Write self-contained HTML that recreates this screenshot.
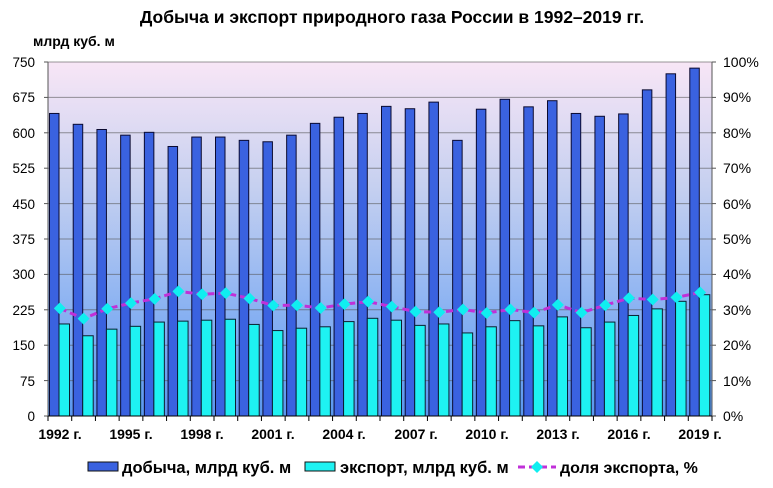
<!DOCTYPE html>
<html><head><meta charset="utf-8"><style>
body{margin:0;background:#fff}
svg{display:block;font-family:"Liberation Sans",sans-serif}
</style></head><body>
<svg id="c" width="773" height="488" xmlns="http://www.w3.org/2000/svg">
<defs>
<linearGradient id="bg" x1="0" y1="0" x2="0" y2="1">
<stop offset="0" stop-color="#f8e6f6"/>
<stop offset="0.35" stop-color="#c6d0f0"/>
<stop offset="0.7" stop-color="#8ab2f2"/>
<stop offset="1" stop-color="#5a98f0"/>
</linearGradient>
</defs>
<text x="392" y="23" text-anchor="middle" font-size="17.5" font-weight="bold">Добыча и экспорт природного газа России в 1992–2019 гг.</text>
<text x="33" y="46" font-size="14" font-weight="bold">млрд куб. м</text>
<rect x="48" y="62" width="664" height="354" fill="url(#bg)"/>
<g id="grid" stroke="#555" stroke-width="1"></g>
<g id="bars"></g>
<g font-size="13.5" text-anchor="end">
<text x="35" y="67">750</text><text x="35" y="102">675</text><text x="35" y="138">600</text><text x="35" y="173">525</text><text x="35" y="209">450</text><text x="35" y="244">375</text><text x="35" y="279">300</text><text x="35" y="315">225</text><text x="35" y="350">150</text><text x="35" y="386">75</text><text x="35" y="421">0</text>
</g>
<g font-size="14">
<text x="723" y="67">100%</text><text x="723" y="102">90%</text><text x="723" y="138">80%</text><text x="723" y="173">70%</text><text x="723" y="209">60%</text><text x="723" y="244">50%</text><text x="723" y="279">40%</text><text x="723" y="315">30%</text><text x="723" y="350">20%</text><text x="723" y="386">10%</text><text x="723" y="421">0%</text>
</g>
<g font-size="14" font-weight="bold" text-anchor="middle">
<text x="60" y="439">1992 г.</text><text x="131" y="439">1995 г.</text><text x="202" y="439">1998 г.</text><text x="273" y="439">2001 г.</text><text x="344" y="439">2004 г.</text><text x="416" y="439">2007 г.</text><text x="487" y="439">2010 г.</text><text x="558" y="439">2013 г.</text><text x="629" y="439">2016 г.</text><text x="700" y="439">2019 г.</text>
</g>
<rect x="88" y="462" width="30" height="9" fill="#3a62e0" stroke="#111"/>
<text x="122" y="473" font-size="16.5" font-weight="bold">добыча, млрд куб. м</text>
<rect x="305" y="462" width="30" height="9" fill="#1ef2f2" stroke="#111"/>
<text x="340" y="473" font-size="16.5" font-weight="bold">экспорт, млрд куб. м</text>
<line x1="518" y1="467" x2="556" y2="467" stroke="#c030d8" stroke-width="3" stroke-dasharray="7,4"/>
<path d="M537 461 L543 467 L537 473 L531 467Z" fill="#10eef0"/>
<text x="560" y="473" font-size="16" font-weight="bold">доля экспорта, %</text>
</svg>
<script>
var P=[641,618,607,595,601,571,591,591,584,581,595,620,633,641,656,651,665,584,650,671,655,668,641,635,640,691,725,737];
var E=[195,170,184,190,199,201,203,205,194,181,186,189,200,207,203,192,195,176,189,202,191,210,187,199,213,227,243,257];
var S=[30.4,27.5,30.3,31.9,33.1,35.2,34.4,34.7,33.2,31.2,31.3,30.5,31.6,32.3,30.9,29.5,29.3,30.1,29.1,30.1,29.2,31.4,29.2,31.3,33.3,32.9,33.5,34.9];
var ns="http://www.w3.org/2000/svg",X0=48,W=664/28,Y0=416,H=354;
function el(t,a,p){var e=document.createElementNS(ns,t);for(var k in a)e.setAttribute(k,a[k]);p.appendChild(e);return e;}
var g=document.getElementById('grid'),b=document.getElementById('bars');
for(var i=1;i<=10;i++){var y=Y0-H*i/10;el('line',{x1:X0,y1:y,x2:712,y2:y,'stroke-opacity':0.6},g);}
el('line',{x1:X0,y1:62,x2:X0,y2:Y0},g);el('line',{x1:712,y1:62,x2:712,y2:Y0},g);
for(var i=0;i<=10;i++){var y=Y0-H*i/10;el('line',{x1:X0-4,y1:y,x2:X0,y2:y},g);el('line',{x1:712,y1:y,x2:716,y2:y},g);}
for(var i=0;i<=28;i++){var x=X0+W*i;el('line',{x1:x,y1:Y0,x2:x,y2:Y0+5,stroke:'#000'},g);}
var pts=[];
for(var i=0;i<28;i++){var x=X0+W*i;
var hp=P[i]/750*H,he=E[i]/750*H;
el('rect',{x:x+1.5,y:Y0-hp,width:9.5,height:hp,fill:'#3a62e0',stroke:'#0a0a30','stroke-width':1},b);
el('rect',{x:x+11,y:Y0-he,width:10.5,height:he,fill:'#1ef2f2',stroke:'#0a2030','stroke-width':1},b);
pts.push([x+W/2,Y0-S[i]/100*H]);}
el('line',{x1:X0,y1:Y0,x2:712,y2:Y0,stroke:'#000'},b);
el('polyline',{points:pts.map(function(p){return p.join(',')}).join(' '),fill:'none',stroke:'#c030d8','stroke-width':3,'stroke-dasharray':'7,4'},b);
pts.forEach(function(p){el('path',{d:'M'+p[0]+' '+(p[1]-6)+' l6 6 l-6 6 l-6 -6Z',fill:'#10eef0'},b);});
</script>
</body></html>
